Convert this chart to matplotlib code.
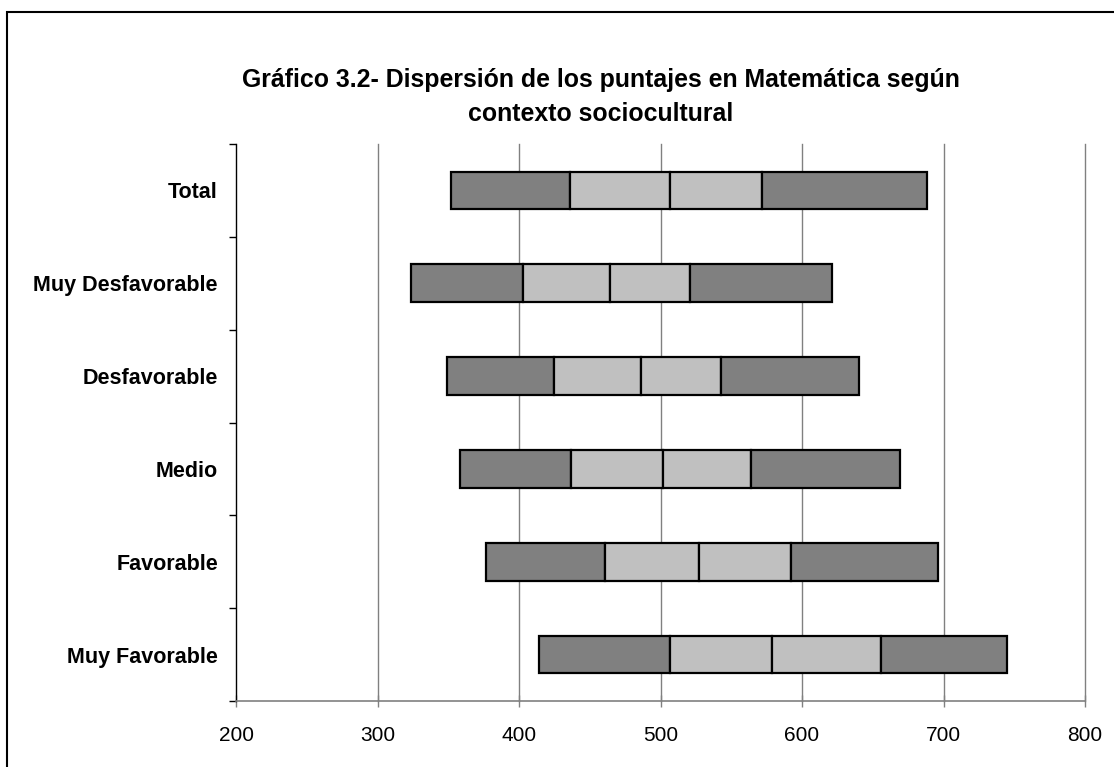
import matplotlib
matplotlib.use("Agg")
import matplotlib.pyplot as plt
import matplotlib.patches as mpatches
import numpy as np

plt.rcParams['font.family'] = ['Liberation Sans', 'DejaVu Sans']

categories = ["Total", "Muy Desfavorable", "Desfavorable", "Medio", "Favorable", "Muy Favorable"]
p5 = [352, 324, 349, 358, 377, 414]
p25 = [436, 403, 425, 437, 461, 507]
p50 = [507, 464, 486, 502, 527, 579]
p75 = [572, 521, 543, 564, 592, 656]
p95 = [688, 621, 640, 669, 696, 745]
x_ticks = [200, 300, 400, 500, 600, 700, 800]
title = "Gráfico 3.2- Dispersión de los puntajes en Matemática según\ncontexto sociocultural"

dark = "#808080"
light = "#C0C0C0"

fig = plt.figure(figsize=(11.14, 7.67), dpi=100)
ax = fig.add_axes([236/1114, 1-701/767, (1085-236)/1114, (701-144)/767])

y = np.arange(len(categories))
h = 0.405
segs = [(p5, p25, dark), (p25, p50, light), (p50, p75, light), (p75, p95, dark)]
for a, b, c in segs:
    ax.barh(y, np.array(b) - np.array(a), left=a, height=h, color=c,
            edgecolor="black", linewidth=1.6, zorder=3)

ax.set_xlim(200, 800)
ax.set_ylim(len(categories) - 0.5, -0.5)
ax.set_xticks(x_ticks)
ax.set_xticklabels([str(v) for v in x_ticks], fontsize=15)
ax.set_yticks(y)
ax.set_yticklabels(categories, fontsize=15.5, fontweight="bold")
ax.set_yticks(np.arange(-0.5, len(categories), 1), minor=True)
ax.tick_params(axis="y", which="major", length=0, pad=13)
ax.tick_params(axis="y", which="minor", length=5, width=1, color="black", direction="out")
ax.tick_params(axis="x", which="major", length=8, width=1, color=dark, direction="inout", pad=14)

for v in x_ticks[1:]:
    ax.axvline(v, color=dark, linewidth=1, zorder=1, clip_on=False)

for s in ["top", "right"]:
    ax.spines[s].set_visible(False)
ax.spines["left"].set_color("black")
ax.spines["left"].set_linewidth(1)
ax.spines["bottom"].set_color(dark)
ax.spines["bottom"].set_linewidth(1.2)

fig.text(601/1114, 1-97/767, title, ha="center", va="center", fontsize=17.9,
         fontweight="bold", linespacing=1.55)

frame = mpatches.Rectangle((7/1114, -0.05), 1.2, 1-12/767+0.05, transform=fig.transFigure,
                           fill=False, edgecolor="black", linewidth=1.5, clip_on=False)
fig.patches.append(frame)

fig.savefig("out.png", dpi=100)
